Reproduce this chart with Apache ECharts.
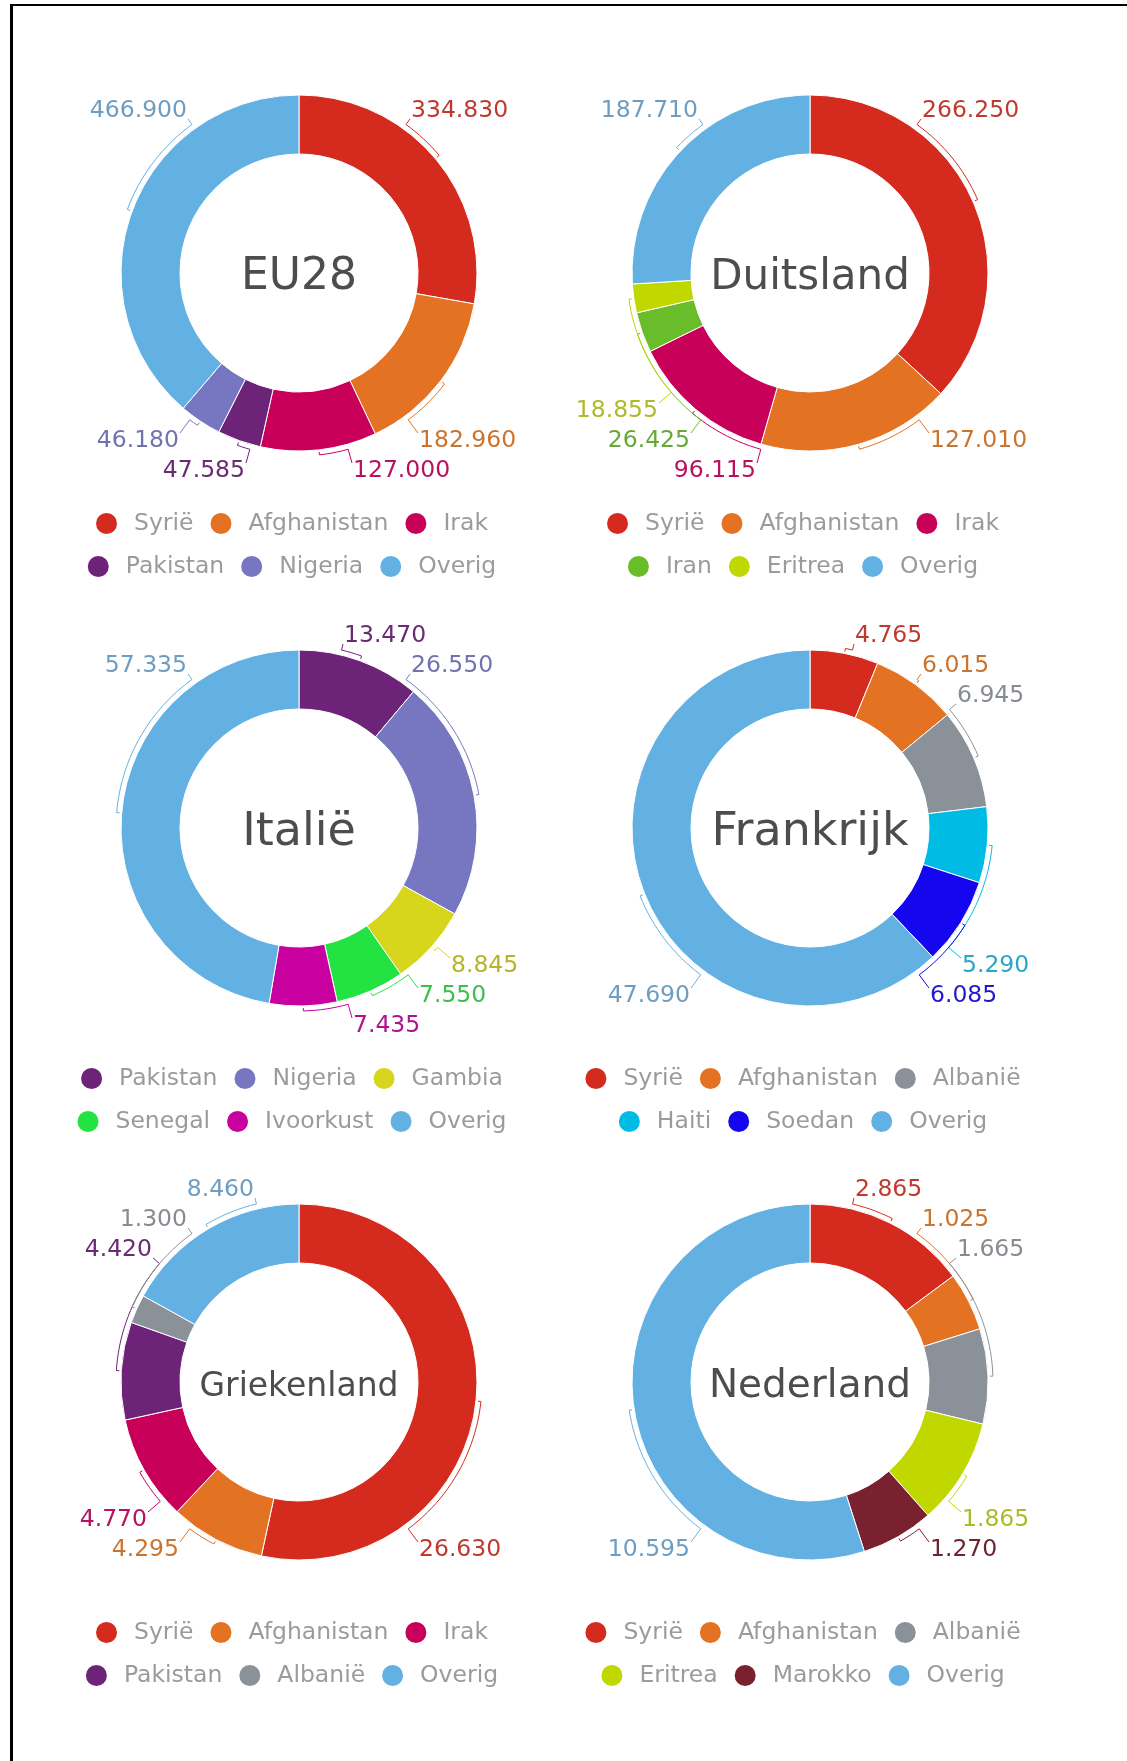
<!DOCTYPE html>
<html>
<head>
<meta charset="utf-8">
<script src="https://cdn.jsdelivr.net/npm/echarts@6/dist/echarts.min.js"></script>
<style>
html,body{margin:0;padding:0;background:#fff;width:1127px;height:1761px;overflow:hidden;position:relative;}
.frame-top{position:absolute;left:10px;top:4px;width:1117px;height:2px;background:#000;}
.frame-left{position:absolute;left:10px;top:4px;width:3px;height:1757px;background:#000;}
.chart{position:absolute;width:700px;height:640px;}
</style>
</head>
<body>
<div class="frame-top"></div>
<div class="frame-left"></div>
<div id="c0" class="chart" style="left:-59px;top:-37px"></div>
<div id="c1" class="chart" style="left:452px;top:-37px"></div>
<div id="c2" class="chart" style="left:-59px;top:518px"></div>
<div id="c3" class="chart" style="left:452px;top:518px"></div>
<div id="c4" class="chart" style="left:-59px;top:1072px"></div>
<div id="c5" class="chart" style="left:452px;top:1072px"></div>
<script>
// ---- data ----
const regionNames = ['EU28', 'Duitsland', 'Italië', 'Frankrijk', 'Griekenland', 'Nederland'];

const eu28Countries = ['Syrië', 'Afghanistan', 'Irak', 'Pakistan', 'Nigeria', 'Overig'];
const eu28Values = [334830, 182960, 127000, 47585, 46180, 466900];

const duitslandCountries = ['Syrië', 'Afghanistan', 'Irak', 'Iran', 'Eritrea', 'Overig'];
const duitslandValues = [266250, 127010, 96115, 26425, 18855, 187710];

const italieCountries = ['Pakistan', 'Nigeria', 'Gambia', 'Senegal', 'Ivoorkust', 'Overig'];
const italieValues = [13470, 26550, 8845, 7550, 7435, 57335];

const frankrijkCountries = ['Syrië', 'Afghanistan', 'Albanië', 'Haiti', 'Soedan', 'Overig'];
const frankrijkValues = [4765, 6015, 6945, 5290, 6085, 47690];

const griekenlandCountries = ['Syrië', 'Afghanistan', 'Irak', 'Pakistan', 'Albanië', 'Overig'];
const griekenlandValues = [26630, 4295, 4770, 4420, 1300, 8460];

const nederlandCountries = ['Syrië', 'Afghanistan', 'Albanië', 'Eritrea', 'Marokko', 'Overig'];
const nederlandValues = [2865, 1025, 1665, 1865, 1270, 10595];

// ---- styles ----
const sliceColors = {
  'Syrië': '#d52b1e', 'Afghanistan': '#e37222', 'Irak': '#c8005a', 'Pakistan': '#6d2377',
  'Nigeria': '#7777c1', 'Overig': '#63b1e3', 'Iran': '#6abd2a', 'Eritrea': '#c0d800',
  'Gambia': '#d7d61d', 'Senegal': '#22e341', 'Ivoorkust': '#c800a0', 'Albanië': '#8a9198',
  'Haiti': '#00bbe3', 'Soedan': '#1406ef', 'Marokko': '#7a2130'
};
const labelColors = {
  'Syrië': '#c0392f', 'Afghanistan': '#c9742f', 'Irak': '#b8125e', 'Pakistan': '#6a2a74',
  'Nigeria': '#7272b0', 'Overig': '#6e9dc2', 'Iran': '#66a83a', 'Eritrea': '#adba2a',
  'Gambia': '#b7b42a', 'Senegal': '#3cbf4b', 'Ivoorkust': '#b0128f', 'Albanië': '#878c92',
  'Haiti': '#28a6c3', 'Soedan': '#2218cf', 'Marokko': '#6e2431'
};
const titleSizes = [44, 42, 46, 46, 33, 39];

const regions = [
  [eu28Countries, eu28Values],
  [duitslandCountries, duitslandValues],
  [italieCountries, italieValues],
  [frankrijkCountries, frankrijkValues],
  [griekenlandCountries, griekenlandValues],
  [nederlandCountries, nederlandValues]
];

const FONT = '"DejaVu Sans", Verdana, sans-serif';
const PIE_CX = 358, PIE_CY = 310, R_IN = 119, R_OUT = 178;
const ROW_XOFF_TOP = { 195: 45, 165: 112, 135: 147, 105: 168, 75: 184, 45: 194 };
const ROW_XOFF_BOTTOM = { 195: 54, 165: 120, 135: 152, 105: 172, 75: 186, 45: 196 };
const LABEL_DY = 3;

function fmt(v) {
  return String(v).replace(/\B(?=(\d{3})+(?!\d))/g, '.');
}

// Label placement: labels sit in rows above / below the donut,
// leader line follows the ring from the slice middle to the label.
function makeLabelLayout(holder, vals) {
  let plan = null;
  function build() {
    let layouts = null;
    try {
      const d = holder.chart.getModel().getSeriesByIndex(0).getData();
      layouts = vals.map(function (v, k) { return d.getItemLayout(k); });
      if (!layouts.every(function (l) { return l && isFinite(l.startAngle); })) layouts = null;
    } catch (e) { layouts = null; }
    let items;
    if (layouts) {
      items = layouts.map(function (l, k) {
        return { k: k, a: (l.startAngle + l.endAngle) / 2, cx: l.cx, cy: l.cy, r: l.r };
      });
    } else {
      const total = vals.reduce(function (s, v) { return s + v; }, 0);
      let cur = -Math.PI / 2;
      items = vals.map(function (v, k) {
        const ang = v / total * Math.PI * 2;
        const it = { k: k, a: cur + ang / 2, cx: PIE_CX, cy: PIE_CY, r: R_OUT };
        cur += ang;
        return it;
      });
    }
    const groups = {};
    items.forEach(function (it) {
      it.right = Math.cos(it.a) > 0;
      it.top = Math.sin(it.a) < 0;
      const key = (it.right ? 'R' : 'L') + (it.top ? 'T' : 'B');
      (groups[key] = groups[key] || []).push(it);
    });
    Object.keys(groups).forEach(function (key) {
      const g = groups[key];
      g.sort(function (p, q) { return Math.abs(Math.sin(q.a)) - Math.abs(Math.sin(p.a)); });
      let rows;
      if (g.length === 1) rows = [165];
      else if (g.length === 2) rows = Math.abs(Math.sin(g[0].a)) > 0.9 ? [195, 165] : [165, 135];
      else rows = [195, 165, 135, 105, 75, 45];
      g.forEach(function (it, idx) { it.row = rows[idx]; });
    });
    plan = items;
  }
  return function (params) {
    if (!plan) build();
    const it = plan[params.dataIndex];
    const cx = it.cx, cy = it.cy, r = it.r;
    const xoff = (it.top ? ROW_XOFF_TOP : ROW_XOFF_BOTTOM)[it.row];
    const x = cx + (it.right ? xoff : -xoff);
    const y = cy + (it.top ? -it.row : it.row) + LABEL_DY;
    const ax = x + (it.right ? -1 : 1);
    const ay = y + (it.top ? 8 : -8);
    const phi = Math.atan2(ay - cy, ax - cx);
    let diff = phi - it.a;
    while (diff > Math.PI) diff -= 2 * Math.PI;
    while (diff < -Math.PI) diff += 2 * Math.PI;
    const ra = r + 5;
    const pts = [[cx + (r + 2) * Math.cos(it.a), cy + (r + 2) * Math.sin(it.a)]];
    const steps = Math.max(1, Math.ceil(Math.abs(diff) / (Math.PI / 90)));
    for (let s = 0; s <= steps; s++) {
      const t = it.a + diff * s / steps;
      pts.push([cx + ra * Math.cos(t), cy + ra * Math.sin(t)]);
    }
    pts.push([ax, ay]);
    return {
      x: x,
      y: y,
      align: it.right ? 'left' : 'right',
      verticalAlign: 'middle',
      labelLinePoints: pts
    };
  };
}

regions.forEach(function (r, i) {
  const names = r[0], vals = r[1];
  const data = names.map(function (n, k) {
    return {
      name: n,
      value: vals[k],
      itemStyle: { color: sliceColors[n] },
      label: { color: labelColors[n] }
    };
  });
  const legendBase = {
    left: 'center',
    orient: 'horizontal',
    icon: 'circle',
    itemWidth: 23,
    itemHeight: 23,
    itemGap: 15,
    selectedMode: false,
    textStyle: { fontFamily: FONT, fontSize: 23.5, color: '#9b9b9b', padding: [0, 0, 0, 11] }
  };
  const holder = {};
  const chart = echarts.init(document.getElementById('c' + i), null, { renderer: 'canvas' });
  holder.chart = chart;
  chart.setOption({
    animation: false,
    title: {
      text: regionNames[i],
      left: PIE_CX,
      top: PIE_CY + 5,
      padding: 0,
      textAlign: 'center',
      textVerticalAlign: 'middle',
      textStyle: { fontFamily: FONT, fontSize: titleSizes[i], fontWeight: 'normal', color: '#4d4d4d' }
    },
    legend: [
      Object.assign({}, legendBase, { top: 543, data: names.slice(0, 3) }),
      Object.assign({}, legendBase, { top: 586, data: names.slice(3) })
    ],
    series: [{
      type: 'pie',
      center: [PIE_CX, PIE_CY],
      radius: [R_IN, R_OUT],
      startAngle: 90,
      clockwise: true,
      avoidLabelOverlap: false,
      itemStyle: { borderColor: '#ffffff', borderWidth: 1 },
      label: {
        show: true,
        position: 'outside',
        fontFamily: FONT,
        fontSize: 23.5,
        overflow: 'none',
        formatter: function (p) { return fmt(p.value); }
      },
      labelLine: { show: true, length: 10, length2: 8, lineStyle: { width: 1 } },
      labelLayout: makeLabelLayout(holder, vals),
      emphasis: { scale: false },
      data: data
    }]
  });
});
</script>
</body>
</html>
